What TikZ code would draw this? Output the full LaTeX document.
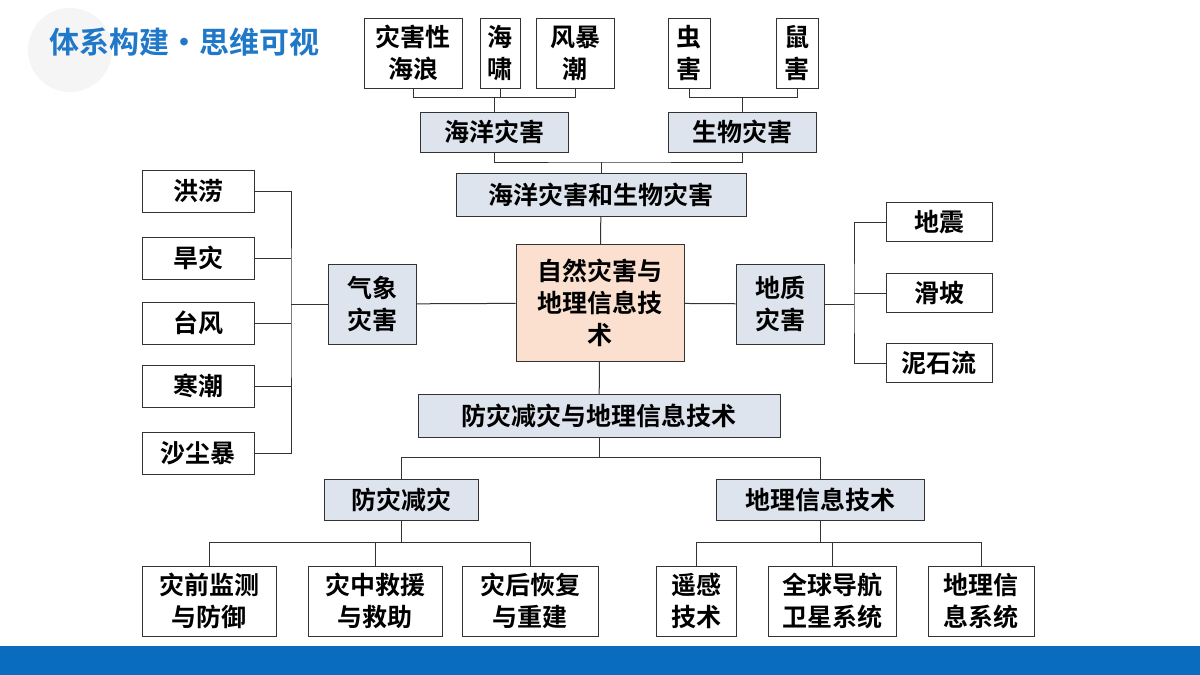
\documentclass[tikz,border=0pt]{standalone}
\usepackage{fontspec}
\newfontfamily\cjk{Noto Sans CJK SC}[BoldFont={* Bold}]
\usetikzlibrary{positioning}
\definecolor{boxblue}{HTML}{DDE4EE}
\definecolor{boxpeach}{HTML}{FBE0D0}
\definecolor{barblue}{HTML}{0A6CBF}
\definecolor{titleblue}{HTML}{1F78C8}
\tikzset{
  box/.style={draw=black!80, line width=0.8pt, fill=white, inner sep=0pt, align=center,
    font=\cjk\bfseries\fontsize{25}{32}\selectfont},
  keybox/.style={box, fill=boxblue},
  link/.style={draw=black!80, line width=1pt}
}
\begin{document}
\begin{tikzpicture}[x=1pt,y=-1pt]
\useasboundingbox (0,0) rectangle (1200,675);
\fill[white] (0,0) rectangle (1200,675);
\fill[black!4] (70,50) circle (42);
\fill[barblue] (0,646) rectangle (1200,675);
% title
\node[text=titleblue, font=\cjk\bfseries\fontsize{30}{32}\selectfont, inner sep=0pt] (title) at (184,42) {体系构建•思维可视};
% centre
\node[box, fill=boxpeach, minimum width=168, minimum height=117] (center) at (600,303) {自然灾害与\\地理信息技\\术};
% top part
\node[box, minimum width=98, minimum height=70] (wave) at (413,53) {灾害性\\海浪};
\node[box, minimum width=40, minimum height=70] (tsunami) at (500,53) {海\\啸};
\node[box, minimum width=78, minimum height=70] (storm) at (575,53) {风暴\\潮};
\node[box, minimum width=42, minimum height=70] (pest) at (689,53) {虫\\害};
\node[box, minimum width=42, minimum height=70] (rat) at (797,53) {鼠\\害};
\node[keybox, minimum width=148, minimum height=40] (ocean) at (494,132) {海洋灾害};
\node[keybox, minimum width=148, minimum height=40] (bio) at (742,132) {生物灾害};
\node[keybox, minimum width=290, minimum height=43] (oceanbio) at (601,195) {海洋灾害和生物灾害};
% left part
\node[keybox, minimum width=88, minimum height=80] (meteo) at (372,304) {气象\\灾害};
\node[box, minimum width=112, minimum height=42] (flood) at (198,191) {洪涝};
\node[box, minimum width=112, minimum height=42] (drought) at (198,258) {旱灾};
\node[box, minimum width=112, minimum height=42] (typhoon) at (198,323) {台风};
\node[box, minimum width=112, minimum height=42] (cold) at (198,386) {寒潮};
\node[box, minimum width=112, minimum height=42] (dust) at (198,453) {沙尘暴};
% right part
\node[keybox, minimum width=88, minimum height=80] (geo) at (780,304) {地质\\灾害};
\node[box, minimum width=106, minimum height=39] (quake) at (939,222) {地震};
\node[box, minimum width=106, minimum height=39] (slide) at (939,293) {滑坡};
\node[box, minimum width=106, minimum height=39] (mud) at (939,363) {泥石流};
% bottom part
\node[keybox, minimum width=362, minimum height=43] (tech) at (599,416) {防灾减灾与地理信息技术};
\node[keybox, minimum width=154, minimum height=41] (reduce) at (401,500) {防灾减灾};
\node[keybox, minimum width=208, minimum height=41] (gis) at (820,500) {地理信息技术};
\node[box, minimum width=134, minimum height=70] (pre) at (209,601) {灾前监测\\与防御};
\node[box, minimum width=134, minimum height=70] (mid) at (375,601) {灾中救援\\与救助};
\node[box, minimum width=136, minimum height=70] (post) at (530,601) {灾后恢复\\与重建};
\node[box, minimum width=80, minimum height=70] (rs) at (696,601) {遥感\\技术};
\node[box, minimum width=128, minimum height=70] (gnss) at (832,601) {全球导航\\卫星系统};
\node[box, minimum width=106, minimum height=70] (gsys) at (981,601) {地理信\\息系统};
% connectors
\draw[link] (ocean.north) -- ++(0,-14) coordinate (oj);
\draw[link] (wave.south) |- (oj) -| (storm.south);
\draw[link] (tsunami.south) -- (tsunami.south |- oj);
\draw[link] (bio.north) -- ++(0,-14) coordinate (bj);
\draw[link] (pest.south) |- (bj) -| (rat.south);
\draw[link] (ocean.south) |- (oceanbio.north |- 0,162) -| (bio.south);
\draw[link] (oceanbio.north |- 0,162) -- (oceanbio.north);
\draw[link] (oceanbio) -- (center);
\draw[link] (center) -- (meteo);
\draw[link] (center) -- (geo);
\draw[link] (center) -- (tech);
\draw[link] (meteo.west) -- (291,304) coordinate (lj);
\draw[link] (flood.east) -| (lj) |- (dust.east);
\foreach \n in {drought,typhoon,cold} \draw[link] (\n.east) -- (lj |- \n.east);
\draw[link] (geo.east) -- (854,304) coordinate (rj);
\draw[link] (quake.west) -| (rj) |- (mud.west);
\draw[link] (slide.west) -- (rj |- slide.west);
\draw[link] (tech.south) -- ++(0,20) coordinate (tj);
\draw[link] (reduce.north) |- (tj) -| (gis.north);
\draw[link] (reduce.south) -- ++(0,22) coordinate (dj);
\draw[link] (pre.north) |- (dj) -| (post.north);
\draw[link] (mid.north) -- (mid.north |- dj);
\draw[link] (gis.south) -- ++(0,22) coordinate (gj);
\draw[link] (rs.north) |- (gj) -| (gsys.north);
\draw[link] (gnss.north) -- (gnss.north |- gj);
\end{tikzpicture}
\end{document}
